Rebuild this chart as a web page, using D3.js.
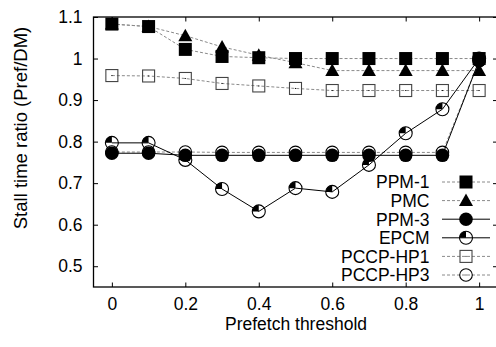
<!DOCTYPE html>
<html>
<head>
<meta charset="utf-8">
<script src="https://cdn.jsdelivr.net/npm/d3@7"></script>
<style>
  html, body { margin: 0; padding: 0; background: #fff; }
  svg { display: block; }
  text { font-family: "Liberation Sans", Arial, Helvetica, sans-serif; fill: #000; }
</style>
</head>
<body>
<svg id="chart" width="496" height="347"></svg>
<script>
// ---- data ----
const thresholds = [0, 0.1, 0.2, 0.3, 0.4, 0.5, 0.6, 0.7, 0.8, 0.9, 1.0];
const ppm1  = [1.083, 1.077, 1.022, 1.005, 1.002, 1.000, 1.000, 1.000, 1.000, 1.000, 1.000];
const pmc   = [1.083, 1.077, 1.055, 1.028, 1.008, 0.990, 0.971, 0.971, 0.971, 0.971, 0.971];
const ppm3  = [0.772, 0.772, 0.767, 0.767, 0.767, 0.767, 0.767, 0.767, 0.767, 0.767, 0.995];
const epcm  = [0.797, 0.797, 0.756, 0.686, 0.632, 0.688, 0.679, 0.744, 0.820, 0.878, 1.000];
const hp1   = [0.959, 0.958, 0.952, 0.940, 0.934, 0.928, 0.923, 0.923, 0.923, 0.923, 0.923];
const hp3   = [0.775, 0.775, 0.775, 0.774, 0.774, 0.774, 0.774, 0.774, 0.774, 0.774, 0.995];
const seriesNames = ["PPM-1", "PMC", "PPM-3", "EPCM", "PCCP-HP1", "PCCP-HP3"];
const xTicks = [0, 0.2, 0.4, 0.6, 0.8, 1];
const xTickLabels = ["0", "0.2", "0.4", "0.6", "0.8", "1"];
const yTicks = [0.5, 0.6, 0.7, 0.8, 0.9, 1.0, 1.1];
const yTickLabels = ["0.5", "0.6", "0.7", "0.8", "0.9", "1", "1.1"];
const xTitle = "Prefetch threshold";
const yTitle = "Stall time ratio (Pref/DM)";

// ---- layout ----
const svg = d3.select("#chart");
const L = 93.5, R = 497.5, T = 17, B = 287;
const x = d3.scaleLinear().domain([-0.05, 1.05]).range([L, R]);
const y = d3.scaleLinear().domain([0.45, 1.1]).range([B, T]);
const FS = 17.5;
const GRAY = "#8a8a8a";

const styles = {
  "PPM-1":    { values: ppm1, marker: "square",   dashed: true },
  "PMC":      { values: pmc,  marker: "triangle", dashed: true },
  "PPM-3":    { values: ppm3, marker: "circle",   dashed: false },
  "EPCM":     { values: epcm, marker: "quarter",  dashed: false },
  "PCCP-HP1": { values: hp1,  marker: "osquare",  dashed: true },
  "PCCP-HP3": { values: hp3,  marker: "ocircle",  dashed: true }
};

// ---- frame & ticks ----
const frame = svg.append("g");
frame.append("rect").attr("x", L).attr("y", T).attr("width", R - L).attr("height", B - T)
  .attr("fill", "none").attr("stroke", "#000").attr("stroke-width", 1.3);

const xAxisB = d3.axisBottom(x).tickValues(xTicks).tickSize(-4.5).tickFormat((d, i) => xTickLabels[i]).tickPadding(11);
const gx = svg.append("g").attr("transform", `translate(0,${B})`).call(xAxisB);
const xAxisT = d3.axisTop(x).tickValues(xTicks).tickSize(-4.5).tickFormat("");
const gxt = svg.append("g").attr("transform", `translate(0,${T})`).call(xAxisT);
const yAxisL = d3.axisLeft(y).tickValues(yTicks).tickSize(-4.5).tickFormat((d, i) => yTickLabels[i]).tickPadding(11);
const gy = svg.append("g").attr("transform", `translate(${L},0)`).call(yAxisL);
const yAxisR = d3.axisRight(y).tickValues(yTicks).tickSize(-4.5).tickFormat("");
const gyr = svg.append("g").attr("transform", `translate(${R},0)`).call(yAxisR);
[gx, gxt, gy, gyr].forEach(g => {
  g.select(".domain").remove();
  g.selectAll(".tick line").attr("stroke", "#000").attr("stroke-width", 1);
  g.selectAll(".tick text").attr("font-size", FS).attr("font-family", "Liberation Sans, Arial, sans-serif").attr("fill", "#000");
});

svg.append("text").attr("x", (L + R) / 2 + 0.5).attr("y", 330)
  .attr("text-anchor", "middle").attr("font-size", FS).text(xTitle);
svg.append("text").attr("transform", "translate(27,128) rotate(-90)")
  .attr("text-anchor", "middle").attr("font-size", 18.5).text(yTitle);

// ---- markers ----
function drawMarker(g, type, cx, cy) {
  const s = 6.5;
  if (type === "square") {
    g.append("rect").attr("x", cx - s).attr("y", cy - s).attr("width", 2 * s).attr("height", 2 * s).attr("fill", "#000");
  } else if (type === "triangle") {
    g.append("path").attr("d", `M${cx},${cy - 7} L${cx + 7},${cy + 5.5} L${cx - 7},${cy + 5.5} Z`).attr("fill", "#000");
  } else if (type === "circle") {
    g.append("circle").attr("cx", cx).attr("cy", cy).attr("r", 6.8).attr("fill", "#000");
  } else if (type === "quarter") {
    const r = 6.5;
    g.append("circle").attr("cx", cx).attr("cy", cy).attr("r", r).attr("fill", "none").attr("stroke", "#000").attr("stroke-width", 1.1);
    g.append("path").attr("d", `M${cx},${cy} L${cx - r},${cy} A${r},${r} 0 0 1 ${cx},${cy - r} Z`).attr("fill", "#000");
  } else if (type === "osquare") {
    const q = 6;
    g.append("rect").attr("x", cx - q).attr("y", cy - q).attr("width", 2 * q).attr("height", 2 * q)
      .attr("fill", "none").attr("stroke", "#444").attr("stroke-width", 1.1);
    g.append("rect").attr("x", cx - 0.5).attr("y", cy - 0.5).attr("width", 1).attr("height", 1).attr("fill", "#000");
  } else if (type === "ocircle") {
    g.append("circle").attr("cx", cx).attr("cy", cy).attr("r", 6.3).attr("fill", "none").attr("stroke", "#000").attr("stroke-width", 1.1);
    g.append("rect").attr("x", cx - 0.5).attr("y", cy - 0.5).attr("width", 1).attr("height", 1).attr("fill", "#000");
  }
}

const line = d3.line().x((d, i) => x(thresholds[i])).y(d => y(d));
const drawOrder = ["PMC", "PPM-1", "PCCP-HP1", "PCCP-HP3", "EPCM", "PPM-3"];
drawOrder.forEach(name => {
  const st = styles[name];
  const g = svg.append("g");
  g.append("path").attr("d", line(st.values)).attr("fill", "none")
    .attr("stroke", st.dashed ? GRAY : "#000").attr("stroke-width", 1)
    .attr("stroke-dasharray", st.dashed ? "3,2" : null);
  st.values.forEach((v, i) => drawMarker(g, st.marker, x(thresholds[i]), y(v)));
});

// ---- legend ----
const legY0 = 182, legDY = 18.6;
seriesNames.forEach((name, i) => {
  const st = styles[name];
  const ly = legY0 + i * legDY;
  const g = svg.append("g");
  g.append("text").attr("x", 429.5).attr("y", ly).attr("dy", "0.36em")
    .attr("text-anchor", "end").attr("font-size", FS).text(name);
  g.append("line").attr("x1", 442).attr("x2", 490).attr("y1", ly).attr("y2", ly)
    .attr("stroke", st.dashed ? GRAY : "#000").attr("stroke-width", 1)
    .attr("stroke-dasharray", st.dashed ? "3,2" : null);
  drawMarker(g, st.marker, 466, ly);
});
</script>
</body>
</html>
